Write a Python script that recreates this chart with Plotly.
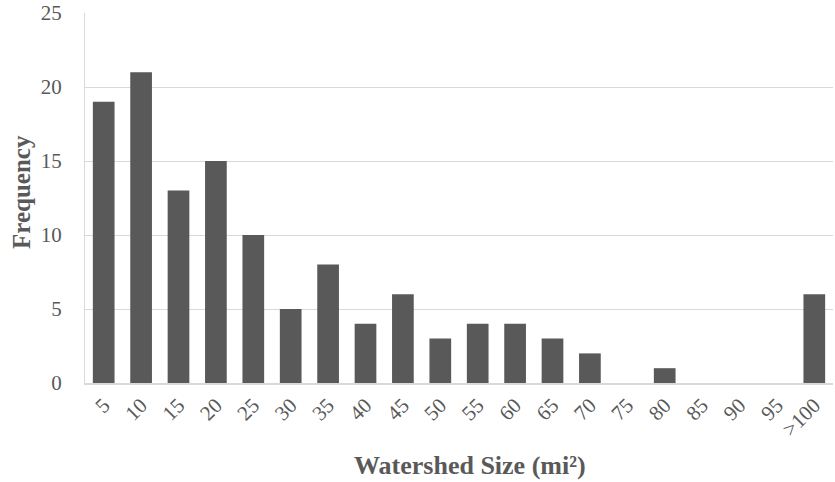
import plotly.graph_objects as go

categories = ["5", "10", "15", "20", "25", "30", "35", "40", "45", "50", "55", "60",
              "65", "70", "75", "80", "85", "90", "95", ">100"]
frequency = [19, 21, 13, 15, 10, 5, 8, 4, 6, 3, 4, 4, 3, 2, 0, 1, 0, 0, 0, 6]
x_title = "<b>Watershed Size (mi²)</b>"
y_title = "<b>Frequency</b>"

grey = "#595959"
font_family = "Liberation Serif, Times New Roman, serif"

W, H = 835, 482
L, R, T, B = 85, 2, 13, 99
pw, ph = W - L - R, H - T - B

fig = go.Figure(go.Bar(
    x=categories, y=frequency,
    marker=dict(color=grey, line=dict(width=0)),
))

fig.update_layout(
    width=W, height=H,
    margin=dict(l=L, r=R, t=T, b=B),
    plot_bgcolor="white", paper_bgcolor="white",
    bargap=0.42,
    showlegend=False,
    font=dict(family=font_family, size=21, color=grey),
    xaxis=dict(
        type="category",
        tickangle=-45,
        showline=True, linecolor="#d9d9d9", linewidth=1.5,
        ticks="", tickfont=dict(size=21, color=grey),
    ),
    yaxis=dict(
        range=[0, 25], dtick=5,
        showgrid=True, gridcolor="#d9d9d9", gridwidth=1,
        showline=True, linecolor="#d9d9d9", linewidth=1,
        zeroline=False,
        ticks="", ticklabelstandoff=18,
        ticklabeloverflow="allow",
        tickfont=dict(size=21, color=grey),
    ),
    annotations=[
        dict(text=x_title, xref="paper", yref="paper",
             x=(470 - L) / pw, y=0, yshift=-(465 - (H - B)),
             xanchor="center", yanchor="middle", showarrow=False,
             font=dict(size=26, color=grey, family=font_family)),
        dict(text=y_title, xref="paper", yref="paper",
             x=0, xshift=-(L - 21), y=(H - B - 192) / ph,
             xanchor="center", yanchor="middle", textangle=-90, showarrow=False,
             font=dict(size=25, color=grey, family=font_family)),
    ],
)

fig.write_html("out.html", config={"displayModeBar": False},
               post_script="document.body.style.margin='0';")
